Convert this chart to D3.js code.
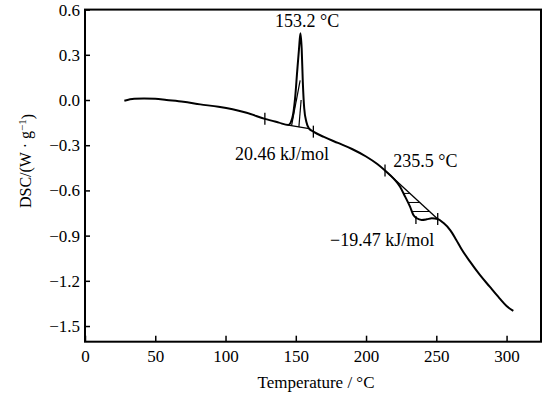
<!DOCTYPE html>
<meta charset="utf-8">
<style>
    body { margin: 0; background: #fff; }
    svg text { font-family: "Liberation Serif", "Times New Roman", serif !important; fill: #000; }
    .axis path, .axis line { stroke: #000; }
</style>
<svg width="560" height="397"></svg>
<script src="https://d3js.org/d3.v7.min.js"></script>
<script>

    // DSC trace
    var temps = [28, 35, 42, 50, 58, 70, 82, 95, 105, 115, 128, 138, 144.7, 147.5, 149.5, 151, 152.3, 153.3, 154.2, 155,
        156, 157.5, 159.5, 162.5, 170, 180, 190, 200, 208, 213.5, 220, 224.2, 227.8, 231.3, 233.7, 236.1, 239.6,
        243.2, 246.8, 251, 255, 260, 264, 268, 274, 281, 288, 295, 300, 304.8];
    var dsc = [-0.005, 0.008, 0.01, 0.008, 0.0, -0.012, -0.029, -0.045, -0.062, -0.085, -0.125, -0.15, -0.166, -0.12,
        0.011, 0.19, 0.34, 0.443, 0.34, 0.12, -0.055, -0.144, -0.19, -0.21, -0.245, -0.285, -0.325, -0.375, -0.425,
        -0.468, -0.525, -0.575, -0.641, -0.708, -0.763, -0.785, -0.796, -0.792, -0.785, -0.79, -0.815, -0.865, -0.925,
        -0.99, -1.073, -1.161, -1.239, -1.316, -1.367, -1.40];

    var xTicks = [0, 50, 100, 150, 200, 250, 300];
    var yTicks = [0.6, 0.3, 0.0, -0.3, -0.6, -0.9, -1.2, -1.5];

    // baselines of the two peaks and the marks on the trace
    var base1 = [[144.7, -0.166], [159.5, -0.19]];
    var base2 = [[213.5, -0.468], [251, -0.79]];
    var hatch1 = [[[147, -0.17], [153.1, 0.13]], [[152.2, -0.18], [153.8, 0.0]]];
    var hatch2Levels = [-0.62, -0.68, -0.74];
    var marks = [[128, -0.125, 6], [162.5, -0.21, 6], [213.5, -0.468, 6], [251, -0.79, 6], [235.5, -0.796, 4]];

    var notes = [
        {text: "153.2 \u00b0C", t: 135.2, v: 0.482},
        {text: "20.46 kJ/mol", t: 106.8, v: -0.398},
        {text: "235.5 \u00b0C", t: 219.4, v: -0.447},
        {text: "\u221219.47 kJ/mol", t: 174.4, v: -0.969}
    ];

    var svg = d3.select("svg");
    var serif = "'Liberation Serif', 'Times New Roman', serif";

    var x = d3.scaleLinear().domain([0, 324.5]).range([85, 541]);
    var y = d3.scaleLinear().domain([-1.604, 0.6]).range([341.7, 9.6]);

    var pts = temps.map(function (t, i) { return [t, dsc[i]]; });

    var line = d3.line()
        .x(function (d) { return x(d[0]); })
        .y(function (d) { return y(d[1]); });

    // hatched area of the second peak
    var area2 = pts.filter(function (d) { return d[0] >= base2[0][0] && d[0] <= base2[1][0]; });
    svg.append("clipPath").attr("id", "clip2")
        .append("path")
        .attr("d", line(area2.concat([base2[0]])) + "Z");

    svg.append("g").attr("clip-path", "url(#clip2)")
        .selectAll("line")
        .data(hatch2Levels)
        .enter().append("line")
        .attr("x1", x(200)).attr("x2", x(260))
        .attr("y1", function (d) { return y(d); })
        .attr("y2", function (d) { return y(d); })
        .attr("stroke", "#000").attr("stroke-width", 1);

    svg.append("g").selectAll("path")
        .data(hatch1)
        .enter().append("path")
        .attr("d", line.curve(d3.curveLinear))
        .attr("fill", "none").attr("stroke", "#000").attr("stroke-width", 1.2);

    svg.append("path")
        .attr("d", line(base1))
        .attr("fill", "none").attr("stroke", "#000").attr("stroke-width", 1.3);
    svg.append("path")
        .attr("d", line(base2))
        .attr("fill", "none").attr("stroke", "#000").attr("stroke-width", 1.3);

    // the trace
    svg.append("path")
        .attr("d", line.curve(d3.curveMonotoneX)(pts))
        .attr("fill", "none")
        .attr("stroke", "#000")
        .attr("stroke-width", 2)
        .attr("stroke-linejoin", "round");

    svg.append("g").selectAll("line")
        .data(marks)
        .enter().append("line")
        .attr("x1", function (d) { return x(d[0]); })
        .attr("x2", function (d) { return x(d[0]); })
        .attr("y1", function (d) { return y(d[1]) - d[2]; })
        .attr("y2", function (d) { return y(d[1]) + d[2]; })
        .attr("stroke", "#000").attr("stroke-width", 1.3);

    // axes, ticks pointing in
    var xAxis = svg.append("g").attr("class", "axis")
        .attr("transform", "translate(0,341.7)")
        .call(d3.axisBottom(x).tickValues(xTicks).tickSize(-6).tickPadding(8).tickSizeOuter(0));
    xAxis.attr("font-family", serif).attr("font-size", 17);
    xAxis.selectAll("text").attr("dy", "0.71em");

    var yAxis = svg.append("g").attr("class", "axis")
        .attr("transform", "translate(85,0)")
        .call(d3.axisLeft(y).tickValues(yTicks).tickSize(-5).tickPadding(5).tickSizeOuter(0)
            .tickFormat(d3.format(".1f")));
    yAxis.attr("font-family", serif).attr("font-size", 17);

    svg.selectAll(".axis .domain").remove();
    svg.selectAll(".axis line").attr("stroke-width", 1.5);

    svg.append("rect")
        .attr("x", 85).attr("y", 9.6)
        .attr("width", 541 - 85).attr("height", 341.7 - 9.6)
        .attr("fill", "none").attr("stroke", "#000").attr("stroke-width", 2);

    svg.append("g").selectAll("text")
        .data(notes)
        .enter().append("text")
        .attr("x", function (d) { return x(d.t); })
        .attr("y", function (d) { return y(d.v); })
        .attr("font-family", serif)
        .attr("font-size", 18)
        .text(function (d) { return d.text; });

    svg.append("text")
        .attr("x", 316).attr("y", 388)
        .attr("text-anchor", "middle")
        .attr("font-family", serif)
        .attr("font-size", 17)
        .text("Temperature / \u00b0C");

    var yl = svg.append("text")
        .attr("transform", "translate(31,161) rotate(-90)")
        .attr("text-anchor", "middle")
        .attr("font-family", serif)
        .attr("font-size", 16);
    yl.append("tspan").text("DSC/(W \u00b7 g");
    yl.append("tspan").attr("dy", "-0.45em").attr("font-size", 11).text("\u22121");
    yl.append("tspan").attr("dy", "0.45em").text(")");

</script>
